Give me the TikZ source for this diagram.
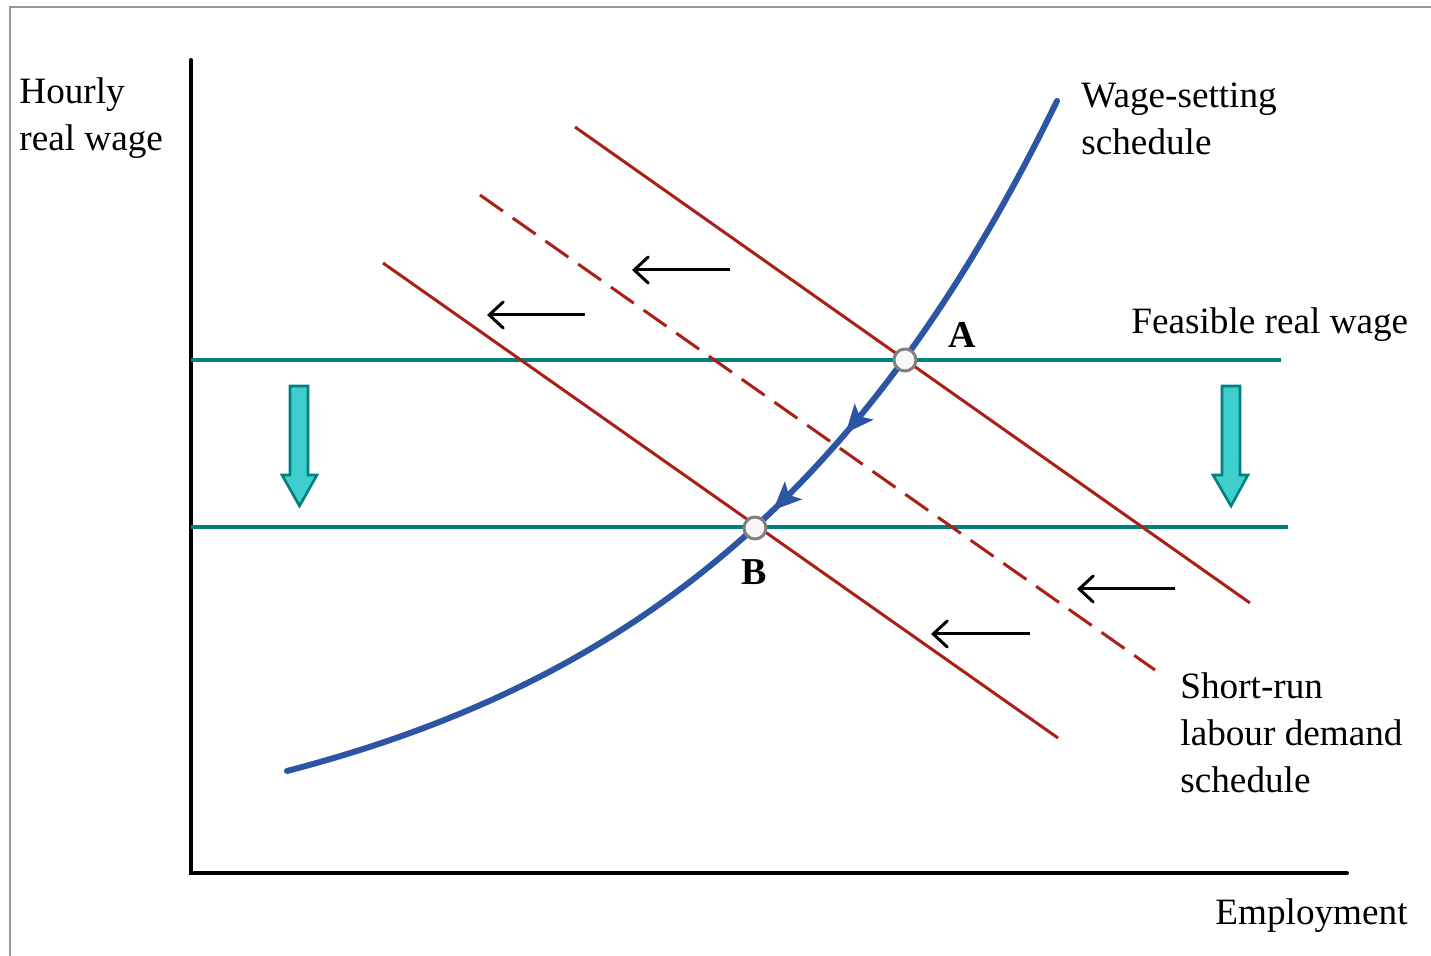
\documentclass[tikz,border=0pt]{standalone}
\usepackage{fontspec}
\setmainfont{Liberation Serif}
\usetikzlibrary{arrows.meta,decorations.markings}
\definecolor{framegray}{RGB}{150,150,150}
\definecolor{wsblue}{RGB}{44,86,163}
\definecolor{ldred}{RGB}{170,32,22}
\definecolor{fteal}{RGB}{0,128,128}
\definecolor{cyanfill}{RGB}{62,206,206}
\definecolor{ptgray}{RGB}{128,128,128}
\begin{document}
\begin{tikzpicture}[x=0.5pt,y=-0.5pt,
  lbl/.style={font=\fontsize{18.6}{23.5}\selectfont, inner sep=0pt, align=left, anchor=north west},
  bold lbl/.style={font=\fontsize{19}{23.75}\selectfont\bfseries, inner sep=0pt},
  axis/.style={line width=2pt, line cap=round},
  frameline/.style={line width=1.2pt, framegray},
  wageline/.style={line width=1.6pt, fteal},
  demand/.style={line width=1.5pt, ldred},
  demand dashed/.style={demand, dash pattern=on 14pt off 6pt},
  shiftarrow/.style={line width=1.5pt, -{Straight Barb[length=7pt,width=13pt,line cap=round]}},
  blockarrow/.style={line width=1.3pt, draw=fteal, fill=cyanfill, line join=miter},
  eqpoint/.style={circle, minimum size=11pt, inner sep=0pt, line width=1.5pt, draw=ptgray, fill=white!97!black},
  wscurve/.style={line width=3pt, wsblue, line cap=round,
    postaction={decorate},
    decoration={markings,
      mark=at position 0.527 with {\arrowreversed{Stealth[length=14pt,width=12pt,inset=3pt]}},
      mark=at position 0.627 with {\arrowreversed{Stealth[length=14pt,width=12pt,inset=3pt]}}}}
]
\useasboundingbox (0,0) rectangle (1431,956);
% frame
\draw[frameline] (10,956) -- (10,7) -- (1431,7);
% axes
\coordinate (origin) at (191,873);
\coordinate (ytop) at (191,60);
\coordinate (xend) at (1347,873);
\draw[axis] (ytop) -- (origin) -- (xend);
% feasible real wage lines
\coordinate (f1s) at (191,360); \coordinate (f1e) at (1281,360);
\coordinate (f2s) at (191,527); \coordinate (f2e) at (1288,527);
\draw[wageline] (f1s) -- (f1e);
\draw[wageline] (f2s) -- (f2e);
% labour demand lines
\coordinate (d1s) at (575,127); \coordinate (d1e) at (1250,603);
\coordinate (d2s) at (480,195); \coordinate (d2e) at (1155,670);
\coordinate (d3s) at (383,263); \coordinate (d3e) at (1058,738);
\draw[demand] (d1s) -- (d1e);
\draw[demand dashed] (d2s) -- (d2e);
\draw[demand] (d3s) -- (d3e);
% wage-setting curve
\draw[wscurve] plot[domain=287:1057, samples=120] (\x, {868-97*exp(0.00268*(\x-287))});
% equilibrium points
\node[eqpoint] (A) at (905,360) {};
\node[eqpoint] (B) at (755,528) {};
\node[bold lbl] (Alab) at (962,335) {A};
\node[bold lbl] (Blab) at (754,572) {B};
% shift arrows
\coordinate (s1a) at (730,270); \coordinate (s1b) at (632,270);
\coordinate (s2a) at (585,315); \coordinate (s2b) at (487,315);
\coordinate (s3a) at (1175,589); \coordinate (s3b) at (1077,589);
\coordinate (s4a) at (1030,634); \coordinate (s4b) at (931,634);
\draw[shiftarrow] (s1a) -- (s1b);
\draw[shiftarrow] (s2a) -- (s2b);
\draw[shiftarrow] (s3a) -- (s3b);
\draw[shiftarrow] (s4a) -- (s4b);
% block arrows
\filldraw[blockarrow] (290,386) -- (308,386) -- (308,475) -- (317,475) -- (299.5,506) -- (282,475) -- (290,475) -- cycle;
\filldraw[blockarrow] (1222,386) -- (1240,386) -- (1240,475) -- (1248,475) -- (1231,506) -- (1213,475) -- (1222,475) -- cycle;
% labels
\node[lbl] (ylab) at (19,77) {Hourly\\real wage};
\node[lbl] (wslab) at (1081,82) {Wage-setting\\schedule};
\node[lbl] (frlab) at (1131,307) {Feasible real wage};
\node[lbl] (ldlab) at (1180,672) {Short-run\\labour demand\\schedule};
\node[lbl] (xlab) at (1215,898) {Employment};
\end{tikzpicture}
\end{document}
